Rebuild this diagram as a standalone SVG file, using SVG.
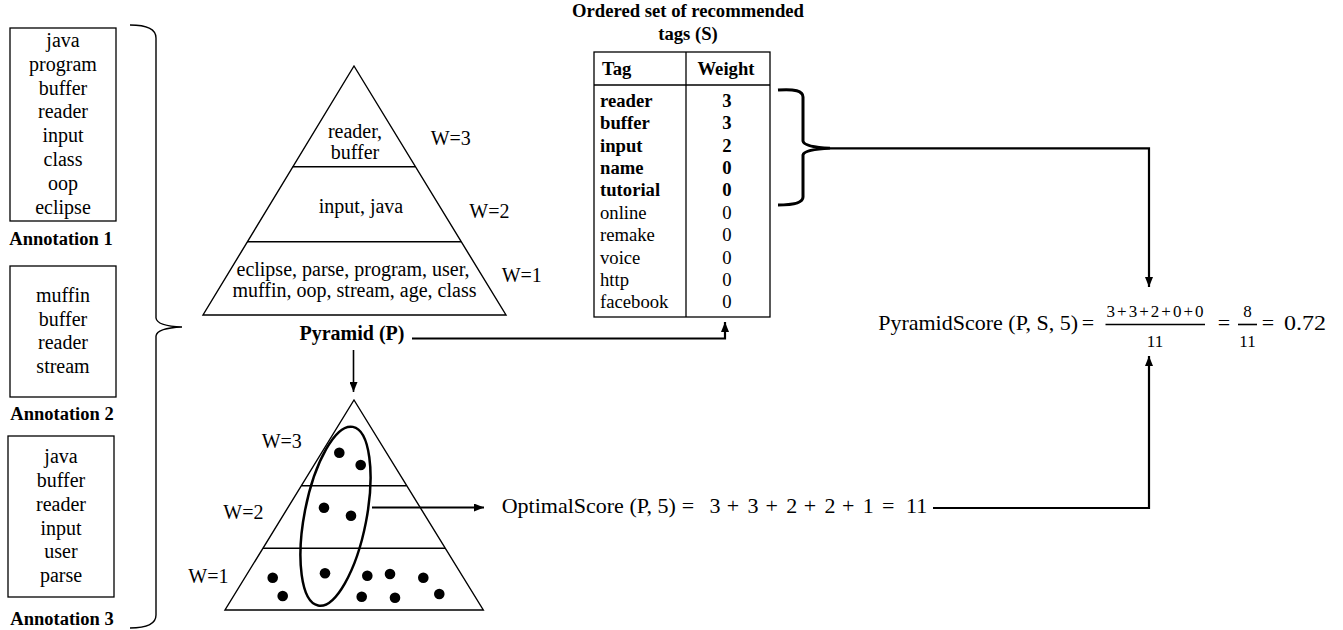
<svg xmlns="http://www.w3.org/2000/svg" width="1343" height="630" viewBox="0 0 1343 630">
<style>
text{font-family:"Liberation Serif","Times New Roman",serif;fill:#000}
.t20{font-size:20px}
.c{text-anchor:middle}
.b{font-weight:bold}
.lbl{font-size:18.5px;font-weight:bold;text-anchor:middle}
.tb{font-size:18.67px}
.box{fill:none;stroke:#000;stroke-width:1.3}
.ln{fill:none;stroke:#000;stroke-width:1.4}
.con{fill:none;stroke:#000;stroke-width:2.2}
.dot{fill:#000}
.m{font-size:22px}
.fr{font-size:17px;text-anchor:middle}
</style>
<defs>
<marker id="ah" viewBox="0 0 10 8" refX="10" refY="4" markerWidth="10" markerHeight="8" orient="auto" markerUnits="userSpaceOnUse">
<path d="M0,0 L10,4 L0,8 z" fill="#000"/>
</marker>
</defs>

<g id="annotation1">
<rect class="box" x="10" y="28" width="106" height="193"/>
<text class="t20 c" x="63" y="47">java</text>
<text class="t20 c" x="63" y="70.8">program</text>
<text class="t20 c" x="63" y="94.6">buffer</text>
<text class="t20 c" x="63" y="118.4">reader</text>
<text class="t20 c" x="63" y="142.2">input</text>
<text class="t20 c" x="63" y="166">class</text>
<text class="t20 c" x="63" y="189.8">oop</text>
<text class="t20 c" x="63" y="213.6">eclipse</text>
<text class="lbl" x="61" y="245">Annotation 1</text>
</g>

<g id="annotation2">
<rect class="box" x="10" y="266" width="106" height="131"/>
<text class="t20 c" x="63" y="301.7">muffin</text>
<text class="t20 c" x="63" y="325.5">buffer</text>
<text class="t20 c" x="63" y="349.3">reader</text>
<text class="t20 c" x="63" y="373">stream</text>
<text class="lbl" x="62" y="420">Annotation 2</text>
</g>

<g id="annotation3">
<rect class="box" x="8" y="436" width="106" height="161"/>
<text class="t20 c" x="61" y="463.3">java</text>
<text class="t20 c" x="61" y="487">buffer</text>
<text class="t20 c" x="61" y="510.8">reader</text>
<text class="t20 c" x="61" y="534.6">input</text>
<text class="t20 c" x="61" y="558.4">user</text>
<text class="t20 c" x="61" y="582.2">parse</text>
<text class="lbl" x="62" y="625">Annotation 3</text>
</g>

<g id="left-brace">
<path class="ln" d="M130,25 Q156,25 156,38 L156,318 Q157,326 182,327 Q157,328 156,336 L156,615 Q156,628 130,628"/>
</g>

<g id="pyramid">
<polygon class="ln" points="354,66 506,315 203,315"/>
<line class="ln" x1="292.7" y1="166.7" x2="415.3" y2="166.7"/>
<line class="ln" x1="247" y1="241.7" x2="461" y2="241.7"/>
<text class="t20 c" x="355" y="138">reader,</text>
<text class="t20 c" x="355" y="159">buffer</text>
<text class="t20 c" x="361" y="213">input, java</text>
<text class="t20 c" x="353" y="275.5">eclipse, parse, program, user,</text>
<text class="t20 c" x="354.5" y="297">muffin, oop, stream, age, class</text>
<text class="t20" x="430.7" y="145">W=3</text>
<text class="t20" x="469.3" y="218">W=2</text>
<text class="t20" x="501.7" y="281.7">W=1</text>
<text class="t20 c b" x="352" y="340">Pyramid (P)</text>
</g>

<g id="optimal-pyramid">
<polygon class="ln" points="354,400 483.3,610 225,610"/>
<line class="ln" x1="301.4" y1="485.7" x2="406.6" y2="485.7"/>
<line class="ln" x1="263" y1="548.3" x2="445" y2="548.3"/>
<text class="t20" x="261.7" y="448.3">W=3</text>
<text class="t20" x="223.3" y="519.3">W=2</text>
<text class="t20" x="188.3" y="583.3">W=1</text>
<circle class="dot" cx="339.3" cy="452.7" r="5.3"/>
<circle class="dot" cx="360.7" cy="465" r="5.3"/>
<circle class="dot" cx="324" cy="507.7" r="5.3"/>
<circle class="dot" cx="351" cy="515.7" r="5.3"/>
<circle class="dot" cx="325" cy="573.3" r="5.3"/>
<circle class="dot" cx="272.7" cy="577.7" r="5.3"/>
<circle class="dot" cx="282.7" cy="596" r="5.3"/>
<circle class="dot" cx="367.3" cy="575.7" r="5.3"/>
<circle class="dot" cx="390" cy="574" r="5.3"/>
<circle class="dot" cx="423.3" cy="577.7" r="5.3"/>
<circle class="dot" cx="361.7" cy="596.7" r="5.3"/>
<circle class="dot" cx="395" cy="597.7" r="5.3"/>
<circle class="dot" cx="439.3" cy="594" r="5.3"/>
<ellipse cx="335.5" cy="516.2" rx="31" ry="91" transform="rotate(11 335.5 516.2)" fill="none" stroke="#000" stroke-width="2.5"/>
</g>

<g id="tags-table">
<text class="tb b c" x="688" y="17">Ordered set of recommended</text>
<text class="tb b c" x="688" y="39.5">tags (S)</text>
<rect class="box" x="594" y="52" width="176" height="265"/>
<line class="box" x1="594" y1="85" x2="770" y2="85"/>
<line class="box" x1="686" y1="52" x2="686" y2="317"/>
<text class="tb b" x="602" y="75">Tag</text>
<text class="tb b c" x="726" y="75">Weight</text>
<g class="tb b">
<text x="600" y="106.7">reader</text><text class="c" x="727" y="106.7">3</text>
<text x="600" y="129.1">buffer</text><text class="c" x="727" y="129.1">3</text>
<text x="600" y="151.5">input</text><text class="c" x="727" y="151.5">2</text>
<text x="600" y="173.9">name</text><text class="c" x="727" y="173.9">0</text>
<text x="600" y="196.3">tutorial</text><text class="c" x="727" y="196.3">0</text>
</g>
<g class="tb">
<text x="600" y="218.7">online</text><text class="c" x="727" y="218.7">0</text>
<text x="600" y="241.1">remake</text><text class="c" x="727" y="241.1">0</text>
<text x="600" y="263.5">voice</text><text class="c" x="727" y="263.5">0</text>
<text x="600" y="285.9">http</text><text class="c" x="727" y="285.9">0</text>
<text x="600" y="308.3">facebook</text><text class="c" x="727" y="308.3">0</text>
</g>
</g>

<g id="right-brace">
<path fill="none" stroke="#000" stroke-width="3" d="M778,90 Q803,88 803,97 L803,141 Q804,147 830,148.3 Q804,149.5 803,155 L803,197 Q803,205 778,205"/>
</g>

<g id="optimal-score">
<text class="m" x="501.7" y="513.3">OptimalScore (P, 5)</text>
<g class="m" text-anchor="middle">
<text x="688" y="513.3">=</text>
<text x="715" y="513.3">3</text>
<text x="733" y="513.3">+</text>
<text x="753" y="513.3">3</text>
<text x="771.7" y="513.3">+</text>
<text x="791.7" y="513.3">2</text>
<text x="810" y="513.3">+</text>
<text x="830" y="513.3">2</text>
<text x="848.3" y="513.3">+</text>
<text x="868.3" y="513.3">1</text>
<text x="888.3" y="513.3">=</text>
<text x="916.7" y="513.3">11</text>
</g>
</g>

<g id="pyramid-score">
<text class="m" x="1078" y="330" text-anchor="end">PyramidScore (P, S, 5)</text>
<text class="m" x="1088" y="330" text-anchor="middle">=</text>
<text class="fr" x="1155" y="317" textLength="97" lengthAdjust="spacing">3+3+2+0+0</text>
<line x1="1105.5" y1="324.5" x2="1205" y2="324.5" stroke="#000" stroke-width="1.6"/>
<text class="fr" x="1155" y="347">11</text>
<text class="m" x="1224" y="330" text-anchor="middle">=</text>
<text class="fr" x="1247.5" y="317">8</text>
<line x1="1238" y1="324.5" x2="1257" y2="324.5" stroke="#000" stroke-width="1.6"/>
<text class="fr" x="1247.5" y="347">11</text>
<text class="m" x="1268" y="330" text-anchor="middle">=</text>
<text class="m" x="1284" y="330" textLength="42" lengthAdjust="spacingAndGlyphs">0.72</text>
</g>

<g id="connectors">
<path class="con" d="M412,338.5 H725 V322" marker-end="url(#ah)"/>
<path fill="none" stroke="#000" stroke-width="1.6" d="M353.5,350 V392" marker-end="url(#ah)"/>
<path class="con" d="M372,507.5 H484" marker-end="url(#ah)"/>
<path class="con" d="M933,508 H1149 V356" marker-end="url(#ah)"/>
<path class="con" d="M830,148.3 H1149 V287" marker-end="url(#ah)"/>
</g>
</svg>
